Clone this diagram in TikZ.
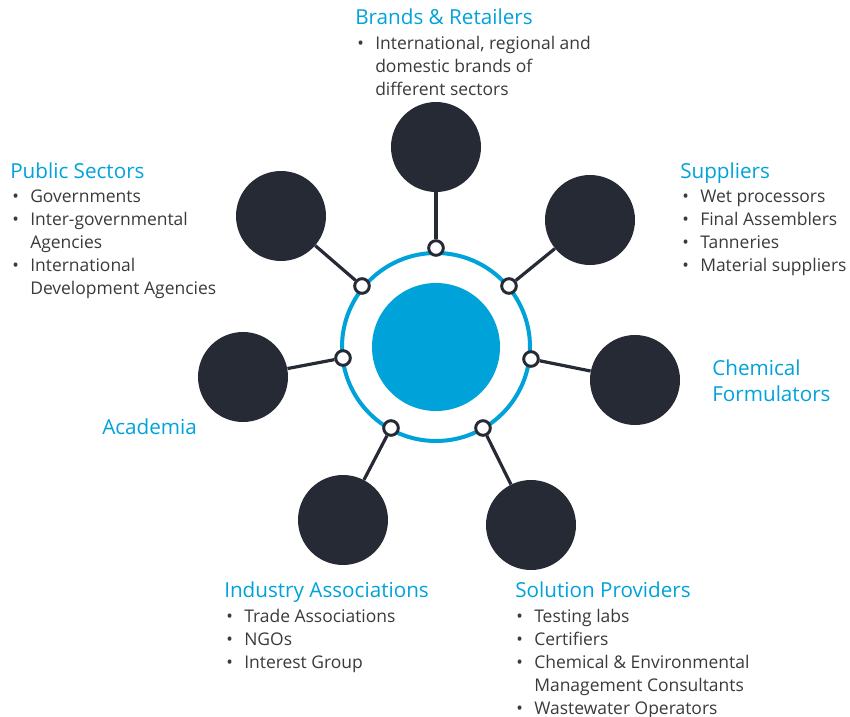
\documentclass[tikz,border=0pt]{standalone}
\usepackage{fontspec}
\setmainfont{Open Sans}
\definecolor{hubblue}{HTML}{00A2DA}
\definecolor{node dark}{HTML}{262A35}
\definecolor{body grey}{HTML}{3A3A3A}
\newcommand{\bul}{\makebox[13.5pt][l]{\textbullet}}
\newcommand{\cont}{\hspace*{13.5pt}}
\tikzset{
  entity/.style={circle,fill=node dark,minimum size=67.5pt,inner sep=0pt},
  port/.style={circle,draw=node dark,fill=white,line width=2.2pt,minimum size=11pt,inner sep=0pt},
  spoke/.style={draw=node dark,line width=2.4pt},
  title/.style={anchor=base west,inner sep=0pt,text=hubblue,font=\fontsize{15.5}{19.5}\selectfont,align=left},
  items/.style={anchor=base west,inner sep=0pt,text=body grey,font=\fontsize{13.1}{17.25}\selectfont}
}
\begin{document}
\begin{tikzpicture}[x=0.75pt,y=-0.75pt]
\useasboundingbox (0,0) rectangle (850,717);
\node[circle,draw=hubblue,line width=3pt,minimum size=141pt,inner sep=0pt] (ring) at (436,347) {};
\node[circle,fill=hubblue,minimum size=96pt,inner sep=0pt] (hub) at (436,347) {};
\node[entity] (brands) at (436,147) {};
\node[entity] (suppliers) at (590,220) {};
\node[entity] (chemical) at (635,380) {};
\node[entity] (solution) at (531,525) {};
\node[entity] (industry) at (343,520) {};
\node[entity] (academia) at (243,377) {};
\node[entity] (public) at (281,216) {};
\node[port] (p1) at (436,248) {};
\node[port] (p2) at (509,286) {};
\node[port] (p3) at (531,359) {};
\node[port] (p4) at (483,428) {};
\node[port] (p5) at (391,428) {};
\node[port] (p6) at (343,358) {};
\node[port] (p7) at (362,286) {};
\draw[spoke] (p1) -- (brands);
\draw[spoke] (p2) -- (suppliers);
\draw[spoke] (p3) -- (chemical);
\draw[spoke] (p4) -- (solution);
\draw[spoke] (p5) -- (industry);
\draw[spoke] (p6) -- (academia);
\draw[spoke] (p7) -- (public);
\node[title] (brands title) at (355,25) {Brands \& Retailers};
\node[items] (brands list) at (357,50) {\begin{tabular}[t]{@{}l@{}}
\bul International, regional and\\
\cont domestic brands of\\
\cont different sectors\end{tabular}};
\node[title] (public title) at (10,178) {Public Sectors};
\node[items] (public list) at (12,202) {\begin{tabular}[t]{@{}l@{}}
\bul Governments\\
\bul Inter-governmental\\
\cont Agencies\\
\bul International\\
\cont Development Agencies\end{tabular}};
\node[title] (suppliers title) at (680,178) {Suppliers};
\node[items] (suppliers list) at (682,202) {\begin{tabular}[t]{@{}l@{}}
\bul Wet processors\\
\bul Final Assemblers\\
\bul Tanneries\\
\bul Material suppliers\end{tabular}};
\node[title] (chemical title) at (712,401) {Chemical\\Formulators};
\node[title] (academia title) at (102,434) {Academia};
\node[title] (industry title) at (224,597) {Industry Associations};
\node[items] (industry list) at (226,622) {\begin{tabular}[t]{@{}l@{}}
\bul Trade Associations\\
\bul NGOs\\
\bul Interest Group\end{tabular}};
\node[title] (solution title) at (515,597) {Solution Providers};
\node[items] (solution list) at (516,622) {\begin{tabular}[t]{@{}l@{}}
\bul Testing labs\\
\bul Certifiers\\
\bul Chemical \& Environmental\\
\cont Management Consultants\\
\bul Wastewater Operators\end{tabular}};
\end{tikzpicture}
\end{document}
